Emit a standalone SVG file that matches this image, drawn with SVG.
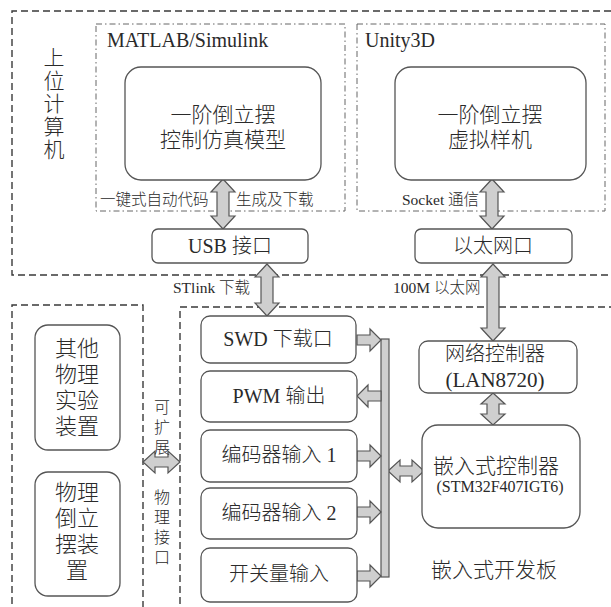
<svg xmlns="http://www.w3.org/2000/svg" width="611" height="607" viewBox="0 0 611 607">
<style>
.bg{fill:#fff}
.dash{fill:none;stroke:#3a3a3a;stroke-width:1.4;stroke-dasharray:7 4}
.dd{fill:none;stroke:#666;stroke-width:1;stroke-dasharray:6 3 1.5 3}
.box{fill:#fff;stroke:#555;stroke-width:1.3}
.arr{fill:#cfcfcf;stroke:#555;stroke-width:1.2;stroke-linejoin:miter}
text{font-family:"Liberation Serif","Noto Sans CJK SC",serif;fill:#2a2a2a;font-weight:300}
.t20{font-size:20px;text-anchor:middle}
.t21{font-size:21px;text-anchor:middle}
.t22{font-size:22px;text-anchor:middle}
.lab{font-size:15.5px}
.vl{font-size:16px;text-anchor:middle}
</style>
<rect class="bg" x="0" y="0" width="611" height="607"/>

<g id="regions">
<path class="dash" d="M611,11 H12 V275 H611"/>
<path class="dash" d="M12,615 V305 H143 V615"/>
<path class="dash" d="M180,615 V307 H611"/>
<rect class="dd" x="96" y="24" width="249" height="187"/>
<rect class="dd" x="357" y="24" width="248" height="187"/>
<text x="107" y="47" style="font-size:20px">MATLAB/Simulink</text>
<text x="365" y="47" style="font-size:20px">Unity3D</text>
<g id="host-label" class="t21">
<text x="54" y="65">上</text>
<text x="54" y="88">位</text>
<text x="54" y="111">计</text>
<text x="54" y="134">算</text>
<text x="54" y="157">机</text>
</g>
<text class="t21" x="494" y="577">嵌入式开发板</text>
</g>

<g id="connectors">
<path class="arr" d="M223,179 L235,192 L229,192 L229,216 L235,216 L223,229 L211,216 L217,216 L217,192 L211,192 Z"/>
<path class="arr" d="M492,179 L504,192 L498,192 L498,216 L504,216 L492,229 L480,216 L486,216 L486,192 L480,192 Z"/>
<path class="arr" d="M267,264 L279,277 L273,277 L273,303 L279,303 L267,316 L255,303 L261,303 L261,277 L255,277 Z"/>
<path class="arr" d="M493,264 L505,277 L499,277 L499,328 L505,328 L493,341 L481,328 L487,328 L487,277 L481,277 Z"/>
<path class="arr" d="M493,393 L505,404 L499,404 L499,414 L505,414 L493,425 L481,414 L487,414 L487,404 L481,404 Z"/>
<path class="arr" d="M143,462 L155,451 L155,457 L168,457 L168,451 L180,462 L168,473 L168,467 L155,467 L155,473 Z"/>
<path class="arr" d="M388,471 L400,460 L400,466 L412,466 L412,460 L424,471 L412,482 L412,476 L400,476 L400,482 Z"/>
<rect class="arr" x="381" y="339" width="8" height="238"/>
<path class="arr" d="M357,335 L370,335 L370,329 L381,340 L370,351 L370,345 L357,345 Z"/>
<path class="arr" d="M381,391 L368,391 L368,385 L357,396 L368,407 L368,401 L381,401 Z"/>
<path class="arr" d="M357,451 L370,451 L370,445 L381,456 L370,467 L370,461 L357,461 Z"/>
<path class="arr" d="M357,507 L370,507 L370,501 L381,512 L370,523 L370,517 L357,517 Z"/>
<path class="arr" d="M357,571 L370,571 L370,565 L381,576 L370,587 L370,581 L357,581 Z"/>
</g>

<g id="label-codegen"><text class="lab" x="100" y="205">一键式自动代码</text><text class="lab" x="236" y="205">生成及下载</text></g>
<g id="label-socket"><text class="lab" x="402" y="205">Socket 通信</text></g>
<g id="label-stlink"><text class="lab" x="173" y="293">STlink 下载</text></g>
<g id="label-eth"><text class="lab" x="393" y="293">100M 以太网</text></g>
<g id="label-expand" class="vl">
<text x="162" y="413">可</text><text x="162" y="433">扩</text><text x="162" y="453">展</text>
<text x="162" y="503">物</text><text x="162" y="523">理</text><text x="162" y="543">接</text><text x="162" y="563">口</text>
</g>

<g id="sim-model">
<rect class="box" x="125" y="67" width="196" height="113" rx="16"/>
<text class="t21" x="223" y="122">一阶倒立摆</text>
<text class="t21" x="223" y="147">控制仿真模型</text>
</g>
<g id="virtual-proto">
<rect class="box" x="395" y="67" width="191" height="113" rx="16"/>
<text class="t21" x="490" y="122">一阶倒立摆</text>
<text class="t21" x="490" y="147">虚拟样机</text>
</g>
<g id="usb">
<rect class="box" x="152" y="229" width="156" height="34" rx="6"/>
<text class="t20" x="230" y="253">USB 接口</text>
</g>
<g id="ethport">
<rect class="box" x="415" y="229" width="157" height="34" rx="6"/>
<text class="t20" x="493" y="253">以太网口</text>
</g>
<g id="other-exp">
<rect class="box" x="35" y="325" width="85" height="125" rx="13"/>
<text class="t22" x="77" y="356">其他</text>
<text class="t22" x="77" y="382">物理</text>
<text class="t22" x="77" y="408">实验</text>
<text class="t22" x="77" y="434">装置</text>
</g>
<g id="phys-pend">
<rect class="box" x="35" y="472" width="85" height="124" rx="13"/>
<text class="t22" x="77" y="500">物理</text>
<text class="t22" x="77" y="526">倒立</text>
<text class="t22" x="77" y="552">摆装</text>
<text class="t22" x="77" y="578">置</text>
</g>
<g id="swd">
<rect class="box" x="201" y="316" width="155" height="47" rx="9"/>
<text class="t20" x="278" y="346">SWD 下载口</text>
</g>
<g id="pwm">
<rect class="box" x="201" y="371" width="156" height="51" rx="9"/>
<text class="t20" x="279" y="403">PWM 输出</text>
</g>
<g id="enc1">
<rect class="box" x="201" y="430" width="156" height="52" rx="9"/>
<text class="t20" x="279" y="462">编码器输入 1</text>
</g>
<g id="enc2">
<rect class="box" x="201" y="488" width="156" height="51" rx="9"/>
<text class="t20" x="279" y="520">编码器输入 2</text>
</g>
<g id="switch">
<rect class="box" x="201" y="548" width="156" height="54" rx="9"/>
<text class="t20" x="279" y="581">开关量输入</text>
</g>
<g id="netctrl">
<rect class="box" x="419" y="341" width="158" height="52" rx="9"/>
<text class="t20" x="495" y="361">网络控制器</text>
<text class="t21" x="495" y="387">(LAN8720)</text>
</g>
<g id="mcu">
<rect class="box" x="422" y="425" width="158" height="103" rx="16"/>
<text class="t21" x="496" y="473">嵌入式控制器</text>
<text x="500" y="492" style="font-size:16px;text-anchor:middle">(STM32F407IGT6)</text>
</g>
</svg>
